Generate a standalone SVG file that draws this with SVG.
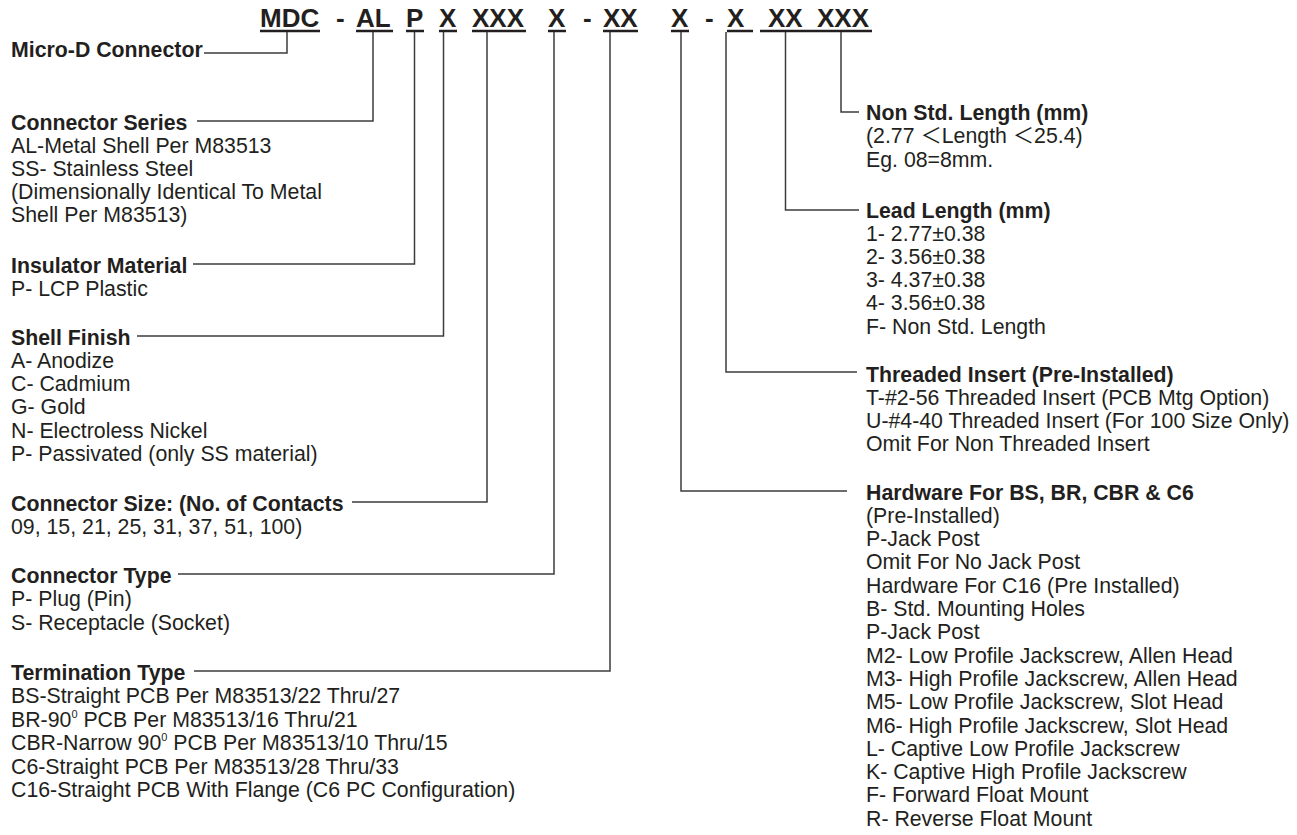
<svg xmlns="http://www.w3.org/2000/svg" width="1297" height="835" viewBox="0 0 1297 835">
<style>
.t{font-family:"Liberation Sans",Arial,sans-serif;font-size:21.3px;fill:#231f20}
.b{font-weight:bold}
.h{font-family:"Liberation Sans",Arial,sans-serif;font-size:26px;font-weight:bold;fill:#231f20}
.u{stroke:#231f20;stroke-width:2.5}
.c{fill:none;stroke:#3c3c3c;stroke-width:1.5}
.sup{font-size:11px}
.fw{font-family:"Liberation Sans","Noto Sans CJK SC",sans-serif}
</style>
<rect width="1297" height="835" fill="#ffffff"/>
<g id="code">
<text class="h" x="260" y="27">MDC</text>
<text class="h" x="336" y="27">-</text>
<text class="h" x="356" y="27">AL</text>
<text class="h" x="406" y="27">P</text>
<text class="h" x="439" y="27">X</text>
<text class="h" x="472" y="27">XXX</text>
<text class="h" x="548" y="27">X</text>
<text class="h" x="583" y="27">-</text>
<text class="h" x="603" y="27">XX</text>
<text class="h" x="671" y="27">X</text>
<text class="h" x="705" y="27">-</text>
<text class="h" x="727" y="27">X</text>
<text class="h" x="768" y="27">XX</text>
<text class="h" x="817" y="27">XXX</text>
<line class="u" x1="260" y1="31" x2="320" y2="31"/>
<line class="u" x1="356" y1="31" x2="393" y2="31"/>
<line class="u" x1="406" y1="31" x2="424" y2="31"/>
<line class="u" x1="439" y1="31" x2="457" y2="31"/>
<line class="u" x1="472" y1="31" x2="526" y2="31"/>
<line class="u" x1="548" y1="31" x2="566" y2="31"/>
<line class="u" x1="603" y1="31" x2="638" y2="31"/>
<line class="u" x1="671" y1="31" x2="689" y2="31"/>
<line class="u" x1="727" y1="31" x2="753" y2="31"/>
<line class="u" x1="760" y1="31" x2="872" y2="31"/>
</g>
<g id="connectors">
<path class="c" d="M287,32 V53 H204"/>
<path class="c" d="M373,32 V121 H197"/>
<path class="c" d="M414.5,32 V264 H193"/>
<path class="c" d="M443.5,32 V336 H137"/>
<path class="c" d="M487,32 V502 H352"/>
<path class="c" d="M554,32 V574 H178"/>
<path class="c" d="M610,32 V671 H194"/>
<path class="c" d="M681,32 V491 H847"/>
<path class="c" d="M726,32 V372 H857"/>
<path class="c" d="M785.5,32 V210 H859"/>
<path class="c" d="M841,32 V112 H859"/>
</g>
<g id="micro-d">
<text class="t b" x="11" y="57">Micro-D Connector</text>
</g>
<g id="series">
<text class="t b" x="11" y="129.5">Connector Series</text>
<text class="t" x="11" y="152.5">AL-Metal Shell Per M83513</text>
<text class="t" x="11" y="175.5">SS- Stainless Steel</text>
<text class="t" x="11" y="198.5">(Dimensionally Identical To Metal</text>
<text class="t" x="11" y="221.5">Shell Per M83513)</text>
</g>
<g id="insulator">
<text class="t b" x="11" y="272.5">Insulator Material</text>
<text class="t" x="11" y="296">P- LCP Plastic</text>
</g>
<g id="finish">
<text class="t b" x="11" y="344.5">Shell Finish</text>
<text class="t" x="11" y="367.8">A- Anodize</text>
<text class="t" x="11" y="391.1">C- Cadmium</text>
<text class="t" x="11" y="414.4">G- Gold</text>
<text class="t" x="11" y="437.7">N- Electroless Nickel</text>
<text class="t" x="11" y="461">P- Passivated (only SS material)</text>
</g>
<g id="size">
<text class="t b" x="11" y="510.5">Connector Size: (No. of Contacts</text>
<text class="t" x="11" y="534">09, 15, 21, 25, 31, 37, 51, 100)</text>
</g>
<g id="type">
<text class="t b" x="11" y="582.5">Connector Type</text>
<text class="t" x="11" y="606">P- Plug (Pin)</text>
<text class="t" x="11" y="629.5">S- Receptacle (Socket)</text>
</g>
<g id="termination">
<text class="t b" x="11" y="679.5">Termination Type</text>
<text class="t" x="11" y="703">BS-Straight PCB Per M83513/22 Thru/27</text>
<text class="t" x="11" y="726.5">BR-90<tspan class="sup" dy="-9">0</tspan><tspan dy="9"> PCB Per M83513/16 Thru/21</tspan></text>
<text class="t" x="11" y="750">CBR-Narrow 90<tspan class="sup" dy="-9">0</tspan><tspan dy="9"> PCB Per M83513/10 Thru/15</tspan></text>
<text class="t" x="11" y="773.5">C6-Straight PCB Per M83513/28 Thru/33</text>
<text class="t" x="11" y="797">C16-Straight PCB With Flange (C6 PC Configuration)</text>
</g>
<g id="nonstd">
<text class="t b" x="866" y="119.5">Non Std. Length (mm)</text>
<text class="t fw" x="866" y="143">(2.77 ＜Length ＜25.4)</text>
<text class="t" x="866" y="166.5">Eg. 08=8mm.</text>
</g>
<g id="lead">
<text class="t b" x="866" y="217.5">Lead Length (mm)</text>
<text class="t" x="866" y="240.7">1- 2.77±0.38</text>
<text class="t" x="866" y="263.9">2- 3.56±0.38</text>
<text class="t" x="866" y="287.1">3- 4.37±0.38</text>
<text class="t" x="866" y="310.3">4- 3.56±0.38</text>
<text class="t" x="866" y="333.5">F- Non Std. Length</text>
</g>
<g id="threaded">
<text class="t b" x="866" y="381.5">Threaded Insert (Pre-Installed)</text>
<text class="t" x="866" y="404.7">T-#2-56 Threaded Insert (PCB Mtg Option)</text>
<text class="t" x="866" y="427.9">U-#4-40 Threaded Insert (For 100 Size Only)</text>
<text class="t" x="866" y="451.1">Omit For Non Threaded Insert</text>
</g>
<g id="hardware">
<text class="t b" x="866" y="499.5">Hardware For BS, BR, CBR &amp; C6</text>
<text class="t" x="866" y="522.8">(Pre-Installed)</text>
<text class="t" x="866" y="546.1">P-Jack Post</text>
<text class="t" x="866" y="569.4">Omit For No Jack Post</text>
<text class="t" x="866" y="592.7">Hardware For C16 (Pre Installed)</text>
<text class="t" x="866" y="616">B- Std. Mounting Holes</text>
<text class="t" x="866" y="639.3">P-Jack Post</text>
<text class="t" x="866" y="662.6">M2- Low Profile Jackscrew, Allen Head</text>
<text class="t" x="866" y="685.9">M3- High Profile Jackscrew, Allen Head</text>
<text class="t" x="866" y="709.2">M5- Low Profile Jackscrew, Slot Head</text>
<text class="t" x="866" y="732.5">M6- High Profile Jackscrew, Slot Head</text>
<text class="t" x="866" y="755.8">L- Captive Low Profile Jackscrew</text>
<text class="t" x="866" y="779.1">K- Captive High Profile Jackscrew</text>
<text class="t" x="866" y="802.4">F- Forward Float Mount</text>
<text class="t" x="866" y="825.7">R- Reverse Float Mount</text>
</g>
</svg>
